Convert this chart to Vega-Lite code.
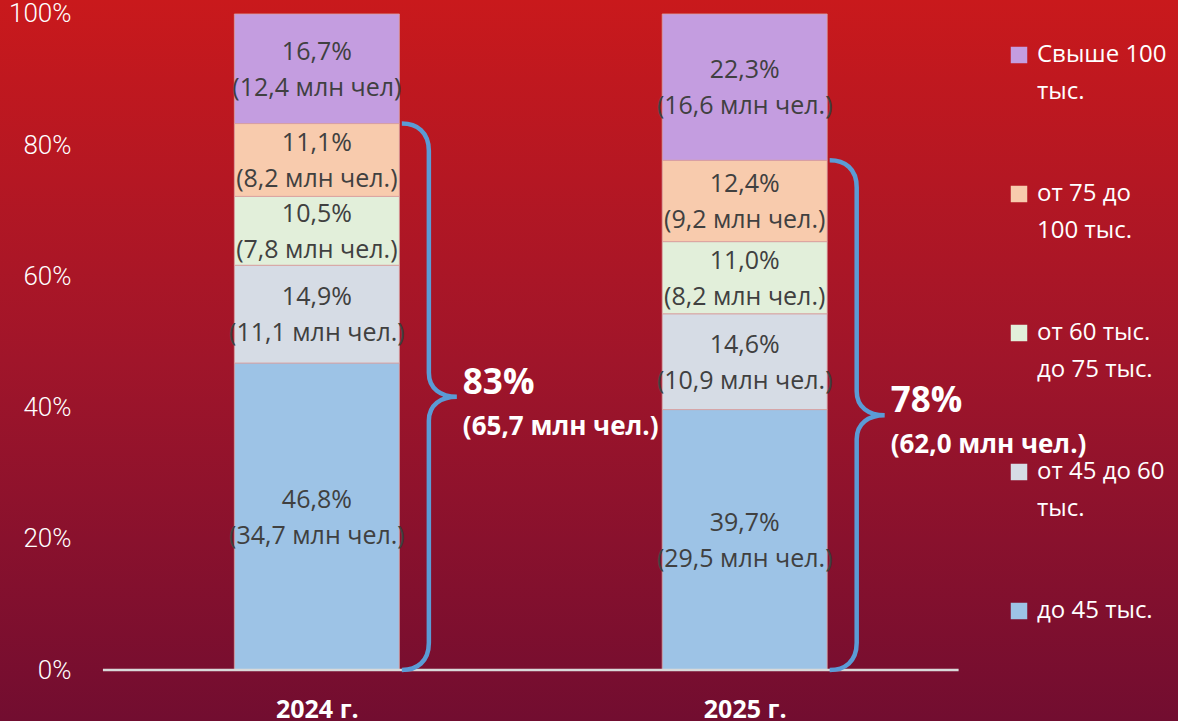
{
  "$schema": "https://vega.github.io/schema/vega-lite/v6.json",
  "width": 1178,
  "height": 721,
  "autosize": "none",
  "padding": 0,
  "background": "#720d30",
  "config": {
    "view": {
      "stroke": null,
      "fill": {
        "gradient": "linear",
        "x1": 0, "y1": 0, "x2": 0, "y2": 1,
        "stops": [
          {"offset": 0, "color": "#c9191c"},
          {"offset": 0.5, "color": "#a0152a"},
          {"offset": 1, "color": "#720d30"}
        ]
      }
    },
    "style": {"guide-label": {"lineHeight": 37}},
    "axis": {"grid": false, "domain": false, "ticks": false}
  },
  "layer": [
    {
      "data": {
        "values": [
          {"year": 2024, "category": "до 45 тыс.", "order": 1, "share": 0.468, "pct": "46,8%", "people": "(34,7 млн чел.)"},
          {"year": 2024, "category": "от 45 до 60 тыс.", "order": 2, "share": 0.149, "pct": "14,9%", "people": "(11,1 млн чел.)"},
          {"year": 2024, "category": "от 60 тыс. до 75 тыс.", "order": 3, "share": 0.105, "pct": "10,5%", "people": "(7,8 млн чел.)"},
          {"year": 2024, "category": "от 75 до 100 тыс.", "order": 4, "share": 0.111, "pct": "11,1%", "people": "(8,2 млн чел.)"},
          {"year": 2024, "category": "Свыше 100 тыс.", "order": 5, "share": 0.167, "pct": "16,7%", "people": "(12,4 млн чел)"},
          {"year": 2025, "category": "до 45 тыс.", "order": 1, "share": 0.397, "pct": "39,7%", "people": "(29,5 млн чел.)"},
          {"year": 2025, "category": "от 45 до 60 тыс.", "order": 2, "share": 0.146, "pct": "14,6%", "people": "(10,9 млн чел.)"},
          {"year": 2025, "category": "от 60 тыс. до 75 тыс.", "order": 3, "share": 0.110, "pct": "11,0%", "people": "(8,2 млн чел.)"},
          {"year": 2025, "category": "от 75 до 100 тыс.", "order": 4, "share": 0.124, "pct": "12,4%", "people": "(9,2 млн чел.)"},
          {"year": 2025, "category": "Свыше 100 тыс.", "order": 5, "share": 0.223, "pct": "22,3%", "people": "(16,6 млн чел.)"}
        ]
      },
      "transform": [
        {"stack": "share", "groupby": ["year"], "sort": [{"field": "order", "order": "ascending"}], "as": ["y0", "y1"]},
        {"calculate": "(datum.y0 + datum.y1) / 2", "as": "mid"}
      ],
      "layer": [
        {
          "mark": {"type": "bar", "width": 165, "stroke": "#d8a0a0", "strokeWidth": 1, "strokeOpacity": 0.8},
          "encoding": {
            "x": {
              "field": "year", "type": "quantitative", "title": null,
              "scale": {"domain": [2023.2711, 2026.0011], "nice": false, "zero": false},
              "axis": {
                "values": [2024, 2025],
                "labelExpr": "datum.value + ' г.'",
                "labelFont": "Open Sans", "labelFontWeight": "bold", "labelFontSize": 25,
                "labelColor": "#ffffff", "labelBaseline": "top", "labelPadding": 27, "offset": -51
              }
            },
            "y": {
              "field": "y1", "type": "quantitative", "title": null,
              "scale": {"domain": [-0.0777, 1.0213], "nice": false, "zero": false},
              "axis": {
                "values": [0, 0.2, 0.4, 0.6, 0.8, 1],
                "format": ".0%",
                "labelFont": "Roboto", "labelFontWeight": 300, "labelFontSize": 26,
                "labelColor": "#ffffff", "labelPadding": 0, "offset": -71
              }
            },
            "y2": {"field": "y0"},
            "color": {
              "field": "category", "type": "nominal",
              "scale": {
                "domain": ["Свыше 100 тыс.", "от 75 до 100 тыс.", "от 60 тыс. до 75 тыс.", "от 45 до 60 тыс.", "до 45 тыс."],
                "range": ["#c49de0", "#f8cbad", "#e2efda", "#d6dce5", "#9dc3e6"]
              },
              "legend": {
                "orient": "none", "legendX": 1007, "legendY": 43, "title": null,
                "symbolType": "square", "symbolSize": 272, "symbolStrokeWidth": 0, "symbolOpacity": 1,
                "labelFont": "Open Sans", "labelFontSize": 24, "labelColor": "#ffffff",
                "labelOffset": 6, "labelLimit": 400, "rowPadding": 78, "padding": 0,
                "labelExpr": "datum.label == 'Свыше 100 тыс.' ? ['Свыше 100', 'тыс.'] : datum.label == 'от 75 до 100 тыс.' ? ['от 75 до', '100 тыс.'] : datum.label == 'от 60 тыс. до 75 тыс.' ? ['от 60 тыс.', 'до 75 тыс.'] : datum.label == 'от 45 до 60 тыс.' ? ['от 45 до 60', 'тыс.'] : datum.label"
              }
            }
          }
        },
        {
          "mark": {"type": "text", "align": "center", "baseline": "middle", "dy": -17, "font": "Open Sans", "fontSize": 25, "color": "#404040"},
          "encoding": {
            "x": {"field": "year", "type": "quantitative", "title": null, "scale": {"domain": [2023.2711, 2026.0011], "nice": false, "zero": false}},
            "y": {"field": "mid", "type": "quantitative", "title": null, "scale": {"domain": [-0.0777, 1.0213], "nice": false, "zero": false}},
            "text": {"field": "pct"}
          }
        },
        {
          "mark": {"type": "text", "align": "center", "baseline": "middle", "dy": 19, "font": "Open Sans", "fontSize": 25, "color": "#404040"},
          "encoding": {
            "x": {"field": "year", "type": "quantitative", "title": null, "scale": {"domain": [2023.2711, 2026.0011], "nice": false, "zero": false}},
            "y": {"field": "mid", "type": "quantitative", "title": null, "scale": {"domain": [-0.0777, 1.0213], "nice": false, "zero": false}},
            "text": {"field": "people"}
          }
        }
      ]
    },
    {
      "data": {"values": [{}]},
      "mark": {"type": "rule", "color": "#d9d9d9", "strokeWidth": 2.5},
      "encoding": {
        "x": {"datum": 2023.5, "type": "quantitative", "title": null},
        "x2": {"datum": 2025.5},
        "y": {"datum": 0, "type": "quantitative", "title": null}
      }
    },
    {
      "data": {
        "values": [
          {"year": 2024, "total": 0.833, "pct": "83%", "people": "(65,7 млн чел.)"},
          {"year": 2025, "total": 0.777, "pct": "78%", "people": "(62,0 млн чел.)"}
        ]
      },
      "transform": [{"calculate": "datum.total / 2", "as": "mid"}],
      "layer": [
        {
          "mark": {"type": "point", "filled": false, "color": "#5b9bd5", "strokeWidth": 4.5, "size": 40000, "opacity": 1},
          "encoding": {
            "x": {"field": "year", "type": "quantitative", "title": null, "scale": {"domain": [2023.2711, 2026.0011], "nice": false, "zero": false}},
            "y": {"field": "mid", "type": "quantitative", "title": null, "scale": {"domain": [-0.0777, 1.0213], "nice": false, "zero": false}},
            "shape": {
              "field": "year", "type": "nominal", "legend": null,
              "scale": {
                "domain": [2024, 2025],
                "range": [
                  "M0.85,-2.732C1.0,-2.732 1.12,-2.65 1.12,-2.46L1.12,-0.24C1.12,-0.08 1.24,0 1.40,0C1.24,0 1.12,0.08 1.12,0.24L1.12,2.46C1.12,2.65 1.0,2.732 0.85,2.732",
                  "M0.85,-2.549C1.0,-2.549 1.12,-2.467 1.12,-2.277L1.12,-0.24C1.12,-0.08 1.24,0 1.40,0C1.24,0 1.12,0.08 1.12,0.24L1.12,2.277C1.12,2.467 1.0,2.549 0.85,2.549"
                ]
              }
            }
          }
        },
        {
          "mark": {"type": "text", "align": "left", "baseline": "middle", "dx": 146, "dy": -14, "font": "Open Sans", "fontWeight": "bold", "fontSize": 35, "color": "#ffffff"},
          "encoding": {
            "x": {"field": "year", "type": "quantitative", "title": null, "scale": {"domain": [2023.2711, 2026.0011], "nice": false, "zero": false}},
            "y": {"field": "mid", "type": "quantitative", "title": null, "scale": {"domain": [-0.0777, 1.0213], "nice": false, "zero": false}},
            "text": {"field": "pct"}
          }
        },
        {
          "mark": {"type": "text", "align": "left", "baseline": "middle", "dx": 146, "dy": 30, "font": "Open Sans", "fontWeight": "bold", "fontSize": 26, "color": "#ffffff"},
          "encoding": {
            "x": {"field": "year", "type": "quantitative", "title": null, "scale": {"domain": [2023.2711, 2026.0011], "nice": false, "zero": false}},
            "y": {"field": "mid", "type": "quantitative", "title": null, "scale": {"domain": [-0.0777, 1.0213], "nice": false, "zero": false}},
            "text": {"field": "people"}
          }
        }
      ]
    }
  ]
}
